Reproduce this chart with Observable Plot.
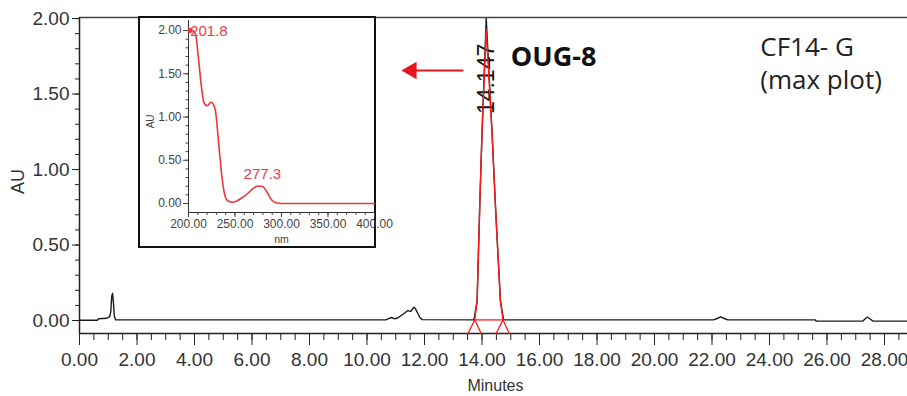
<!DOCTYPE html>
<html>
<head>
<meta charset="utf-8">
<script src="https://cdn.jsdelivr.net/npm/d3@7"></script>
<script src="https://cdn.jsdelivr.net/npm/@observablehq/plot@0.6"></script>
<style>
  html, body { margin: 0; padding: 0; background: #fff; }
  #wrap { position: relative; width: 907px; height: 396px; overflow: hidden; }
  #main { position: absolute; left: 0; top: 0; }
  #inset { position: absolute; left: 138px; top: 16px; width: 234px; height: 228px;
           border: 2px solid #111; background: #fff; }
  svg { overflow: visible; }
</style>
</head>
<body>
<div id="wrap"><div id="main"></div><div id="inset"></div></div>
<script>
// ---- Main chromatogram (max plot) ----
const traceTime = [0, 0.62, 0.66, 0.95, 1.05, 1.09, 1.12, 1.15, 1.18, 1.21, 1.26,
  10.65, 10.75, 10.85, 10.95, 11.05, 11.2, 11.3, 11.42, 11.52, 11.58, 11.63, 11.68, 11.76, 11.84, 11.92,
  13.72, 13.83, 13.92, 14.0, 14.147, 14.35, 14.47, 14.64, 14.75,
  22.05, 22.2, 22.3, 22.4, 22.55, 25.6, 25.62, 27.25, 27.35, 27.42, 27.5, 27.6, 28.8];
const traceAU = [0.002, 0.002, 0.012, 0.015, 0.025, 0.06, 0.16, 0.18, 0.12, 0.03, 0.004,
  0.004, 0.012, 0.02, 0.012, 0.015, 0.035, 0.048, 0.066, 0.06, 0.075, 0.088, 0.08, 0.05, 0.02, 0.006,
  0.004, 0.13, 0.75, 1.24, 2.0, 1.24, 0.75, 0.13, 0.004,
  0.004, 0.015, 0.024, 0.015, 0.004, 0.004, -0.004, -0.004, 0.015, 0.022, 0.01, -0.004, -0.004];

// integrated peak (red)
const peakTime = [13.75, 13.83, 13.92, 14.0, 14.147, 14.35, 14.47, 14.64, 14.73];
const peakAU = [0.004, 0.13, 0.75, 1.24, 1.93, 1.24, 0.75, 0.13, 0.004];
const peakBounds = [13.75, 14.73];
const peakRT = ["14.147"];
const peakLabelAU = [1.6];

// ---- Inset UV spectrum ----
const specNm = [200.5, 201.8, 204, 207.5, 211, 214, 216.5, 220, 224.5, 227, 229, 232.5, 236, 239.8,
  243, 247, 252, 258, 263, 268, 274, 279, 282, 284.6, 287, 290, 295, 300, 400];
const specAU = [1.98, 2.0, 2.0, 1.96, 1.65, 1.34, 1.17, 1.13, 1.17, 1.14, 1.07, 0.69, 0.30, 0.07,
  0.025, 0.015, 0.03, 0.07, 0.11, 0.16, 0.2, 0.2, 0.17, 0.13, 0.08, 0.035, 0.005, 0.0, 0.0];
const specLabels = ["201.8", "277.3"];
const specLabelNm = [201.8, 277.3];
const specLabelAU = [2.0, 0.2];

// ticks
const xTicks = d3.range(0, 29, 2);
const xMinor = d3.range(0, 28.9, 0.5);
const yTicks = [0, 0.5, 1.0, 1.5, 2.0];
const yMinor = d3.range(0, 2.01, 0.1);
const insetXTicks = [200, 250, 300, 350, 400];
const insetXMinor = d3.range(200, 401, 10);
const insetYTicks = [0, 0.5, 1.0, 1.5, 2.0];
const insetYMinor = d3.range(0, 2.01, 0.1);

// annotations
const compound = ["OUG-8"];
const sampleLines = ["CF14- G", "(max plot)"];

const fmt = d3.format(".2f");
const arial = "'Liberation Sans',Arial,sans-serif";
const calibri = "'Open Sans','Lato',sans-serif";

const yDom = [-0.086, 2.007];
const xDom = [0, 28.8];

const trace = traceTime.map((t, i) => ({t, v: traceAU[i]}));
const peak = peakTime.map((t, i) => ({t, v: peakAU[i]}));
const marks = peakBounds.flatMap((b, k) => [
  {k, t: b - 0.24, v: yDom[0]}, {k, t: b, v: peakAU[k === 0 ? 0 : peakAU.length - 1]}, {k, t: b + 0.22, v: yDom[0]}
]);

const main = Plot.plot({
  width: 907, height: 396,
  marginLeft: 79, marginRight: 0, marginTop: 17, marginBottom: 63,
  x: {domain: xDom, axis: null},
  y: {domain: yDom, axis: null},
  style: {fontFamily: arial, fontSize: "19px", color: "#333", background: "transparent"},
  marks: [
    Plot.ruleY([yDom[1]], {stroke: "#444", strokeWidth: 1.5}),
    Plot.ruleY([yDom[0]], {stroke: "#222", strokeWidth: 1.5}),
    Plot.ruleX([0], {stroke: "#222", strokeWidth: 1.5}),
    Plot.axisX({ticks: xMinor, tickSize: 7, tickFormat: () => "", label: null, stroke: "#222"}),
    Plot.axisX({ticks: xTicks, tickSize: 12, tickPadding: 7, tickFormat: fmt, label: null, stroke: "#222", letterSpacing: "-1px"}),
    Plot.axisY({ticks: yMinor, tickSize: 4, tickFormat: () => "", label: null, stroke: "#222"}),
    Plot.axisY({ticks: yTicks, tickSize: 7, tickPadding: 3, tickFormat: fmt, label: null, stroke: "#222", letterSpacing: "-1px"}),
    Plot.text(["AU"], {x: xDom[0], y: 0.92, dx: -61, rotate: -90, fontSize: 18, fill: "#333"}),
    Plot.text(["Minutes"], {frameAnchor: "bottom", dy: 57, dx: 2, fontSize: 16, fill: "#333", letterSpacing: "-0.5px"}),
    Plot.line(trace, {x: "t", y: "v", stroke: "#1a1a1a", strokeWidth: 1.4}),
    Plot.text(peakRT, {x: d => +d, y: peakLabelAU, text: d => d, rotate: -90, fontSize: 23, letterSpacing: "1.5px", fill: "#111"}),
    Plot.line(peak, {x: "t", y: "v", stroke: "#ff1a1a", strokeWidth: 1.4}),
    Plot.ruleY([peakAU[0]], {x1: peakBounds[0], x2: peakBounds[1], stroke: "#ff1a1a", strokeWidth: 1.3}),
    Plot.line(marks, {x: "t", y: "v", z: "k", stroke: "#ff1a1a", strokeWidth: 1.3}),
    Plot.arrow([0], {x1: 13.32, x2: 11.45, y1: 1.656, y2: 1.656, stroke: "#e8141e", strokeWidth: 2.2, headLength: 0}),
    Plot.dot([0], {x: 11.55, y: 1.656, symbol: "triangle", r: 5.5, rotate: -90, fill: "#e8141e", stroke: "#e8141e"}),
    Plot.text(compound, {x: 15.0, y: 1.74, text: d => d, textAnchor: "start", fontSize: 27, fontWeight: "bold", fontFamily: calibri, fill: "#111"}),
    Plot.text(sampleLines, {x: 23.68, y: (d, i) => [1.81, 1.59][i], text: d => d, textAnchor: "start", fontSize: 26, fontFamily: calibri, fill: "#222"})
  ]
});
document.getElementById("main").appendChild(main);

const spec = specNm.map((n, i) => ({n, v: specAU[i]}));
const iyDom = [-0.104, 2.116];
const inset = Plot.plot({
  width: 234, height: 228,
  marginLeft: 48, marginRight: 0, marginTop: 2, marginBottom: 34,
  x: {domain: [200, 400], axis: null},
  y: {domain: iyDom, axis: null},
  style: {fontFamily: arial, fontSize: "12px", color: "#444", background: "transparent"},
  marks: [
    Plot.ruleX([200], {stroke: "#333", strokeWidth: 1}),
    Plot.ruleY([iyDom[0]], {stroke: "#333", strokeWidth: 1}),
    Plot.axisX({ticks: insetXMinor, tickSize: 3, tickFormat: () => "", label: null}),
    Plot.axisX({ticks: insetXTicks, tickSize: 5, tickPadding: 2, tickFormat: fmt, label: null, letterSpacing: "-0.6px"}),
    Plot.axisY({ticks: insetYMinor, tickSize: 2.5, tickFormat: () => "", label: null}),
    Plot.axisY({ticks: insetYTicks, tickSize: 5, tickPadding: 2, tickFormat: fmt, label: null, letterSpacing: "-0.6px"}),
    Plot.text(["AU"], {x: 200, y: 0.95, dx: -38, rotate: -90, fontSize: 10, fill: "#444"}),
    Plot.text(["nm"], {frameAnchor: "bottom", dy: 30, dx: 0, fontSize: 10.5, fill: "#444"}),
    Plot.line(spec, {x: "n", y: "v", stroke: "#f0353a", strokeWidth: 1.6, curve: "monotone-x"}),
    Plot.dot([specLabelNm[0]], {x: d => d, y: specLabelAU[0], r: 2.5, fill: "#f0353a"}),
    Plot.text([specLabels[0]], {x: specLabelNm[0], y: specLabelAU[0], text: d => d, textAnchor: "start",
      dy: 1, dx: 0, fontSize: 15, letterSpacing: "-0.5px", fill: "#ee3b45"}),
    Plot.text([specLabels[1]], {x: specLabelNm[1], y: specLabelAU[1], text: d => d, textAnchor: "middle",
      dy: -12, dx: 2, fontSize: 15, letterSpacing: "-0.5px", fill: "#ee3b45"})
  ]
});
document.getElementById("inset").appendChild(inset);
</script>
</body>
</html>
